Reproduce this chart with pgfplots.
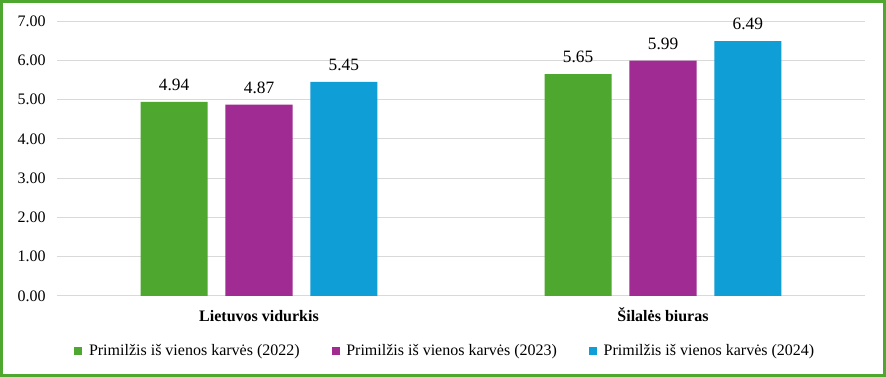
\documentclass[border=0pt]{standalone}
\usepackage{fontspec}
\setmainfont{Liberation Serif}
\usepackage{pgfplots}
\pgfplotsset{compat=1.18}
\definecolor{cgreen}{HTML}{4EA72E}
\definecolor{cpurple}{HTML}{A02B93}
\definecolor{cblue}{HTML}{0F9ED5}
\definecolor{cgrid}{HTML}{D9D9D9}
\begin{document}
\begin{tikzpicture}
\useasboundingbox (0,0) rectangle (664.5pt,282.75pt);
\fill[white] (0,0) rectangle (664.5pt,282.75pt);
\begin{axis}[
  at={(42.75pt,60.75pt)}, anchor=south west,
  scale only axis, width=606pt, height=206.25pt,
  ybar,
  xmin=-0.5, xmax=1.5, ymin=0, ymax=7,
  xtick={0,1}, xticklabels={Lietuvos vidurkis, Šilalės biuras},
  ytick={0,1,...,7},
  major tick length=0pt,
  axis line style={draw=none},
  ymajorgrids, grid style={cgrid, line width=0.75pt},
  /pgf/number format/assume math mode=true,
  yticklabel style={font=\fontsize{12}{14}\selectfont, xshift=-5pt, /pgf/number format/fixed, /pgf/number format/fixed zerofill, /pgf/number format/precision=2},
  xticklabel style={font=\fontsize{12}{14}\selectfont\bfseries, anchor=base, yshift=-19pt},
  bar width=0.166,
  nodes near coords,
  nodes near coords style={font=\fontsize{13}{15}\selectfont, yshift=5pt, /pgf/number format/fixed, /pgf/number format/fixed zerofill, /pgf/number format/precision=2, /pgf/number format/assume math mode=true},
  legend columns=3,
  legend style={at={(0.481,-0.2)}, anchor=center, draw=none, font=\fontsize{12}{14}\selectfont, /tikz/every even column/.append style={column sep=22pt}, /tikz/every odd column/.append style={column sep=3pt}},
  legend image code/.code={\draw[#1,draw=none] (0pt,-3pt) rectangle (6pt,3pt);},
]
\addplot[fill=cgreen, draw=none, bar shift=-0.21] coordinates {(0,4.94) (1,5.65)};
\addplot[fill=cpurple, draw=none, bar shift=0] coordinates {(0,4.87) (1,5.99)};
\addplot[fill=cblue, draw=none, bar shift=0.21] coordinates {(0,5.45) (1,6.49)};
\legend{Primilžis iš vienos karvės (2022), Primilžis iš vienos karvės (2023), Primilžis iš vienos karvės (2024)}
\end{axis}
\draw[cgreen, line width=2.4pt] (1.2pt,1.2pt) rectangle (663.3pt,281.55pt);
\end{tikzpicture}
\end{document}
